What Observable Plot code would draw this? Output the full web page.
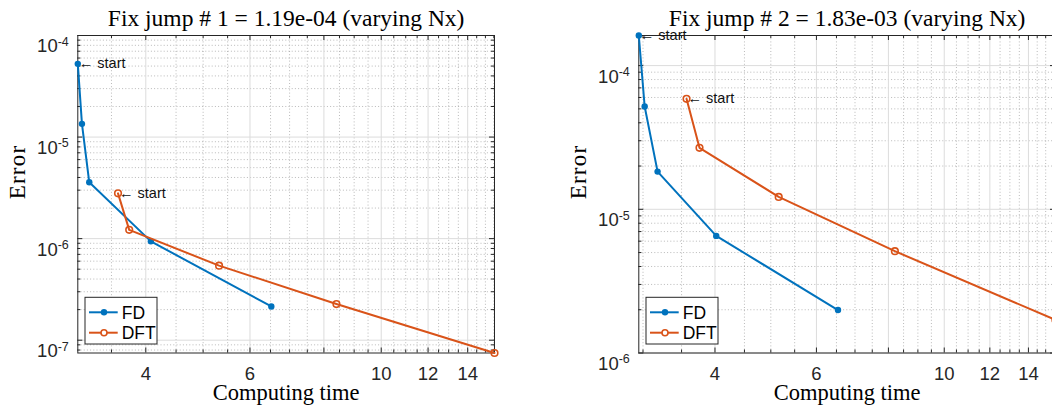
<!DOCTYPE html>
<html>
<head>
<meta charset="utf-8">
<script src="https://cdn.jsdelivr.net/npm/d3@7"></script>
<script src="https://cdn.jsdelivr.net/npm/@observablehq/plot@0.6"></script>
<style>
html,body{margin:0;padding:0;background:#fff;overflow:hidden;width:1052px;height:408px;}
#wrap{position:relative;width:1052px;height:408px;overflow:hidden;background:#fff;}
.panel{position:absolute;top:0;overflow:visible;}
.panel svg{max-width:none !important;}
</style>
</head>
<body>
<div id="wrap"></div>
<script>
// ---- data ----
const fdTime1  = [3.07, 3.12, 3.21, 4.08, 6.52];
const fdErr1   = [5.26e-5, 1.35e-5, 3.59e-6, 9.4e-7, 2.15e-7];
const dftTime1 = [3.59, 3.75, 5.32, 8.40, 15.54];
const dftErr1  = [2.79e-6, 1.22e-6, 5.42e-7, 2.27e-7, 7.48e-8];
const yLimits1 = [7.48e-8, 1e-4];

const fdTime2  = [2.95, 3.02, 3.18, 4.02, 6.54];
const fdErr2   = [1.62e-4, 5.19e-5, 1.83e-5, 6.53e-6, 1.99e-6];
const dftTime2 = [3.57, 3.76, 5.16, 8.21, 15.6];
const dftErr2  = [5.87e-5, 2.68e-5, 1.22e-5, 5.11e-6, 1.70e-6];
const yLimits2 = [1e-6, 1.62e-4];

const titles = ["Fix jump # 1 = 1.19e-04 (varying Nx)", "Fix jump # 2 = 1.83e-03 (varying Nx)"];
const seriesNames = ["FD", "DFT"];
const xTickValues = [4, 6, 8, 10, 12, 14];
const xLabel = "Computing time";
const yLabel = "Error";
const annotation = "start";

// ---- style ----
const BLUE = "#0072BD", ORANGE = "#D95319", AXIS = "#262626";
const SANS = "'Liberation Sans', Arial, Helvetica, sans-serif";
const SERIF = "'Liberation Serif', 'Times New Roman', serif";

function makePanel({left, width, marginLeft, marginRight, fdT, fdE, dftT, dftE, yLim, title}) {
  const height = 408, marginTop = 35, marginBottom = 55.5;
  const ph = height - marginTop - marginBottom;
  const pw = width - marginLeft - marginRight;
  const fd = fdT.map((t, i) => ({t, e: fdE[i]}));
  const dft = dftT.map((t, i) => ({t, e: dftE[i]}));
  const xDom = d3.extent([...fdT, ...dftT]);
  const inX = v => v >= xDom[0] - 1e-9 && v <= xDom[1] + 1e-9;
  const inY = v => v >= yLim[0] * 0.9999 && v <= yLim[1] * 1.0001;
  const xMajor = xTickValues.filter(inX);
  const xMinor = d3.range(3, 16, 0.5).filter(v => !xTickValues.includes(v) && inX(v));
  const yMajor = d3.range(-9, -1).map(k => +("1e" + k)).filter(inY);
  const yMinor = d3.range(-9, -1).flatMap(k => d3.range(2, 10).map(m => +(m + "e" + k))).filter(inY);

  const minorGrid = {stroke: "#8c8c8c", strokeOpacity: 0.6, strokeDasharray: "1,2.2"};
  const majorGrid = {stroke: "#dcdcdc", strokeOpacity: 1};
  const tk = {stroke: AXIS, strokeOpacity: 1};

  const chart = Plot.plot({
    width, height, marginLeft, marginRight, marginTop, marginBottom,
    style: {fontFamily: SANS, fontSize: "18px", color: AXIS, background: "transparent", overflow: "visible", maxWidth: "none"},
    x: {type: "log", domain: xDom, axis: null},
    y: {type: "log", domain: yLim, axis: null},
    marks: [
      Plot.gridX(xMinor, minorGrid),
      Plot.gridY(yMinor, minorGrid),
      Plot.gridX(xMajor, majorGrid),
      Plot.gridY(yMajor, majorGrid),
      // inward ticks on all four sides
      Plot.gridX(xMajor, {...tk, insetTop: ph - 5}),
      Plot.gridX(xMajor, {...tk, insetBottom: ph - 5}),
      Plot.gridX(xMinor, {...tk, insetTop: ph - 3}),
      Plot.gridX(xMinor, {...tk, insetBottom: ph - 3}),
      Plot.gridY(yMajor, {...tk, insetRight: pw - 5}),
      Plot.gridY(yMajor, {...tk, insetLeft: pw - 5}),
      Plot.gridY(yMinor, {...tk, insetRight: pw - 3}),
      Plot.gridY(yMinor, {...tk, insetLeft: pw - 3}),
      Plot.frame({stroke: AXIS, strokeWidth: 1}),
      Plot.line(fd, {x: "t", y: "e", stroke: BLUE, strokeWidth: 2}),
      Plot.dot(fd, {x: "t", y: "e", fill: BLUE, r: 3.2}),
      Plot.line(dft, {x: "t", y: "e", stroke: ORANGE, strokeWidth: 2}),
      Plot.dot(dft, {x: "t", y: "e", stroke: ORANGE, fill: "none", r: 3.3, strokeWidth: 1.6}),
      Plot.text([fd[0], dft[0]], {x: "t", y: "e", text: () => "\u2190 " + annotation,
        textAnchor: "start", dx: 1, fontSize: 14.5, fill: "#111"}),
      Plot.axisX(xMajor, {anchor: "bottom", tickSize: 0, tickPadding: 14, label: null}),
      Plot.axisY(yMajor, {anchor: "left", tickSize: 0, tickPadding: 9, label: null,
        tickFormat: d => "10^" + Math.round(Math.log10(d))}),
      Plot.text([title], {text: d => d, frameAnchor: "top", lineAnchor: "middle", dy: -17,
        fontFamily: SERIF, fontSize: 23.5, fill: "#000"}),
      Plot.text([xLabel], {text: d => d, frameAnchor: "bottom", lineAnchor: "middle", dy: 40,
        fontFamily: SERIF, fontSize: 22.5, fill: "#000"}),
      Plot.text([yLabel], {text: d => d, frameAnchor: "left", lineAnchor: "middle", rotate: -90,
        dx: -60, dy: 5, fontFamily: SERIF, fontSize: 23, fill: "#000"})
    ]
  });
  chart.style.maxWidth = "none";

  // tick label font size, set on the text itself
  chart.querySelectorAll('g[aria-label="x-axis tick label"] text, g[aria-label="y-axis tick label"] text')
    .forEach(t => { t.style.fontSize = "18.5px"; t.style.fill = AXIS; });

  // superscript exponents on the y tick labels
  chart.querySelectorAll('g[aria-label="y-axis tick label"] text').forEach(t => {
    const s = t.textContent;
    if (!s.includes("^")) return;
    const [b, e] = s.split("^");
    t.textContent = b;
    t.setAttribute("dy", "11");
    const ts = document.createElementNS("http://www.w3.org/2000/svg", "tspan");
    ts.setAttribute("dy", "-6.5");
    ts.style.fontSize = "12.5px";
    ts.textContent = e;
    t.appendChild(ts);
  });
  // the LaTeX-like y label is wider: spread its letters a little
  chart.querySelectorAll("text").forEach(t => {
    if (t.textContent === yLabel) t.setAttribute("letter-spacing", "1.2");
  });

  // legend box
  const svg = d3.select(chart);
  const g = svg.append("g").attr("class", "legend").attr("text-anchor", "start");
  const lx = marginLeft + 7.7, ly = 297.3;
  g.append("rect").attr("x", lx).attr("y", ly).attr("width", 72).attr("height", 46.7)
    .attr("fill", "#fff").attr("stroke", AXIS).attr("stroke-width", 1);
  const colors = [BLUE, ORANGE];
  seriesNames.forEach((name, i) => {
    const cy = ly + 15 + i * 20.4;
    g.append("line").attr("x1", lx + 4).attr("x2", lx + 32.7).attr("y1", cy).attr("y2", cy)
      .attr("stroke", colors[i]).attr("stroke-width", 2);
    const c = g.append("circle").attr("cx", lx + 19).attr("cy", cy).attr("r", i === 0 ? 3.2 : 3);
    if (i === 0) c.attr("fill", colors[i]);
    else c.attr("fill", "#fff").attr("stroke", colors[i]).attr("stroke-width", 1.6);
    g.append("text").attr("x", lx + 36.7).attr("y", cy).attr("dy", "0.36em")
      .attr("text-anchor", "start")
      .attr("font-family", SANS).style("font-size", "17.5px").attr("fill", "#000").text(name);
  });

  const div = document.createElement("div");
  div.className = "panel";
  div.style.left = left + "px";
  div.style.width = width + "px";
  div.appendChild(chart);
  document.getElementById("wrap").appendChild(div);
}

makePanel({left: 0, width: 520, marginLeft: 77.3, marginRight: 26,
  fdT: fdTime1, fdE: fdErr1, dftT: dftTime1, dftE: dftErr1, yLim: yLimits1, title: titles[0]});
makePanel({left: 530, width: 530, marginLeft: 108.3, marginRight: 5,
  fdT: fdTime2, fdE: fdErr2, dftT: dftTime2, dftE: dftErr2, yLim: yLimits2, title: titles[1]});
</script>
</body>
</html>
